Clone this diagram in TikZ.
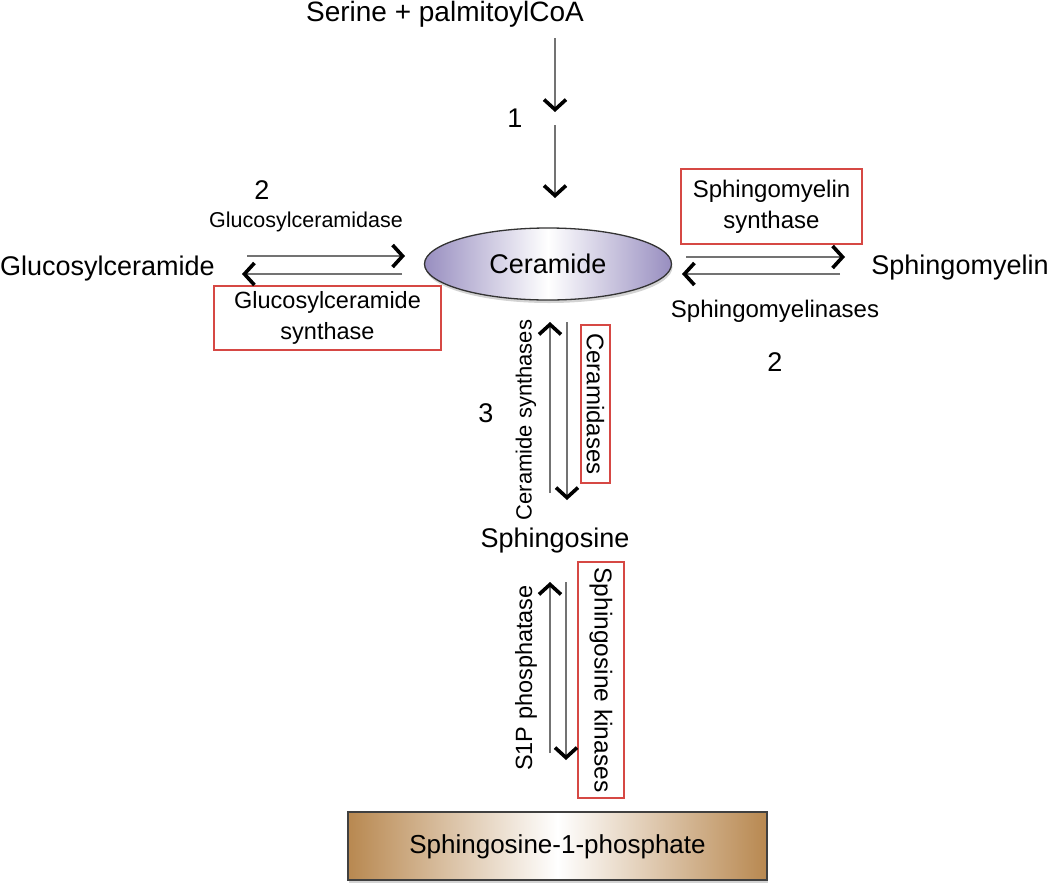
\documentclass[tikz,border=0pt]{standalone}
\usepackage{fontspec}
\setmainfont{Liberation Sans}
\usetikzlibrary{arrows.meta,shapes.geometric,shadows}
\definecolor{lav}{RGB}{152,142,192}
\definecolor{bronze}{RGB}{184,136,80}
\definecolor{redbox}{RGB}{214,72,68}
\definecolor{lgray}{RGB}{115,115,115}
\tikzset{
  big/.style={font=\fontsize{27}{30}\selectfont, inner sep=0pt},
  small/.style={font=\fontsize{23.5}{30}\selectfont, inner sep=0pt},
  enzbox/.style={draw=redbox, line width=1.6pt, fill=white, inner sep=0pt, align=center, font=\fontsize{23.5}{31}\selectfont},
  rxn/.style={draw=lgray, line width=1.5pt, -{Straight Barb[black,length=10pt,width=22pt,line width=3.6pt]}},
}
\begin{document}
\begin{tikzpicture}[x=1pt,y=-1pt]
\useasboundingbox (0,0) rectangle (1050,892);

% main nodes
\node[big, font=\fontsize{28}{30}\selectfont] (serine) at (445,14) {Serine + palmitoylCoA};
\node[ellipse, draw=black!80, line width=1.3pt, minimum width=247pt, minimum height=72pt,
      left color=lav, right color=lav, middle color=white,
      drop shadow={shadow xshift=1pt, shadow yshift=-3pt, opacity=0.35}] (cer) at (548,264) {};
\node[big] (certext) at (548,264) {Ceramide};
\node[big] (gcer) at (107.5,269) {Glucosylceramide};
\node[big] (sm) at (960,268) {Sphingomyelin};
\node[big] (sph) at (555,541) {Sphingosine};
\node[draw=black!75, line width=1.3pt, minimum width=419pt, minimum height=68pt,
      left color=bronze, right color=bronze, middle color=white,
      drop shadow={shadow xshift=1pt, shadow yshift=-3pt, opacity=0.35}] (s1p) at (557.5,846) {};
\node[font=\fontsize{26}{30}\selectfont, inner sep=0pt] (s1ptext) at (557.5,847) {Sphingosine-1-phosphate};

% numbers
\node[big] (n1) at (515,118) {1};
\node[big] (n2l) at (262,190) {2};
\node[big] (n2r) at (775,362) {2};
\node[big] (n3) at (486,413) {3};

% enzyme labels
\node[font=\fontsize{21.5}{30}\selectfont, inner sep=0pt] (gcase) at (306,222) {Glucosylceramidase};
\node[small, font=\fontsize{24}{30}\selectfont] (smase) at (775,311) {Sphingomyelinases};
\node[enzbox, minimum width=227pt, minimum height=64pt] (gcs) at (327.5,318) {Glucosylceramide\\synthase};
\node[enzbox, font=\fontsize{24}{31}\selectfont, minimum width=181pt, minimum height=75pt] (sms) at (771.5,206.5) {Sphingomyelin\\synthase};
\node[small, font=\fontsize{22}{30}\selectfont, rotate=90] (cers) at (526,420) {Ceramide synthases};
\node[enzbox, font=\fontsize{24}{31}\selectfont, rotate=-90, minimum width=158pt, minimum height=29pt] (cdase) at (595.5,404) {Ceramidases};
\node[small, rotate=90] (s1pp) at (526,678) {S1P phosphatase};
\node[enzbox, font=\fontsize{24.5}{31}\selectfont, rotate=-90, minimum width=236pt, minimum height=46pt] (sphk) at (601,680) {Sphingosine kinases};

% coordinates for arrow ends
\coordinate (a1s) at (555,38);
\coordinate (a1e) at (555,112);
\coordinate (a2s) at (555,125);
\coordinate (a2e) at (555,198);
\coordinate (lts) at (247,256);
\coordinate (lte) at (405,256);
\coordinate (lbs) at (402,274);
\coordinate (lbe) at (242,274);
\coordinate (rts) at (686,257);
\coordinate (rte) at (845,257);
\coordinate (rbs) at (840,274);
\coordinate (rbe) at (682,274);
\coordinate (vus) at (550,493);
\coordinate (vue) at (550,322);
\coordinate (vds) at (567,322);
\coordinate (vde) at (567,500);
\coordinate (wus) at (550,753);
\coordinate (wue) at (550,582);
\coordinate (wds) at (566,582);
\coordinate (wde) at (566,760);

% arrows
\draw[rxn] (a1s) -- (a1e);
\draw[rxn] (a2s) -- (a2e);
\draw[rxn] (lts) -- (lte);
\draw[rxn] (lbs) -- (lbe);
\draw[rxn] (rts) -- (rte);
\draw[rxn] (rbs) -- (rbe);
\draw[rxn] (vus) -- (vue);
\draw[rxn] (vds) -- (vde);
\draw[rxn] (wus) -- (wue);
\draw[rxn] (wds) -- (wde);
\end{tikzpicture}
\end{document}
